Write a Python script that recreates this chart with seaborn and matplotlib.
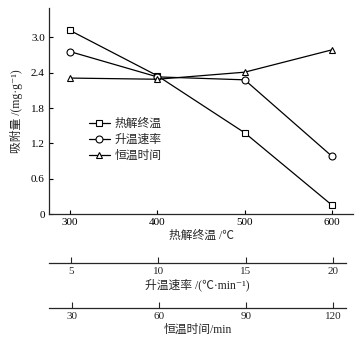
import matplotlib
matplotlib.use("Agg")
import matplotlib.pyplot as plt
import seaborn as sns
import pandas as pd

sns.set_style("ticks")
FAM = ['Liberation Serif', 'Noto Sans CJK SC', 'DejaVu Serif']
plt.rcParams['font.family'] = FAM
plt.rcParams['axes.unicode_minus'] = False

temps = [300, 400, 500, 600]
series_names = ['热解终温', '升温速率', '恒温时间']
final_temp = [3.12, 2.35, 1.38, 0.15]
heat_rate = [2.76, 2.33, 2.28, 0.98]
hold_time = [2.31, 2.29, 2.41, 2.79]
rate_ticks = [5, 10, 15, 20]
time_ticks = [30, 60, 90, 120]
y_ticks = [0, 0.6, 1.2, 1.8, 2.4, 3.0]
y_tick_labels = ['0', '0.6', '1.2', '1.8', '2.4', '3.0']

fig = plt.figure(figsize=(3.63, 3.43), dpi=100)
ax = fig.add_axes([0.135, 0.376, 0.8375, 0.6006])

markers = ['s', 'o', '^']
for name, vals, mk in zip(series_names, [final_temp, heat_rate, hold_time], markers):
    df = pd.DataFrame({'x': temps, 'y': vals})
    sns.lineplot(data=df, x='x', y='y', ax=ax, color='black', linewidth=0.9,
                 marker=mk, markersize=5, markerfacecolor='white',
                 markeredgecolor='black', markeredgewidth=0.8, label=name)

ax.set_xlim(276, 624)
ax.set_ylim(0, 3.5)
ax.set_xticks(temps)
ax.set_yticks(y_ticks)
ax.set_yticklabels(y_tick_labels)
for s in ['top', 'right']:
    ax.spines[s].set_visible(False)
for s in ['left', 'bottom']:
    ax.spines[s].set_linewidth(0.9)
ax.tick_params(direction='in', length=3, width=0.8, labelsize=8, colors='black', pad=3)
ax.set_xlabel('热解终温 /℃', fontsize=8.5, labelpad=2)
ax.set_ylabel('吸附量 /(mg·g⁻¹)', fontsize=8.5, labelpad=6)
leg = ax.legend(loc='upper left', bbox_to_anchor=(0.115, 0.49), frameon=False,
                fontsize=8.5, handlelength=1.8, handletextpad=0.4, labelspacing=0.35,
                borderaxespad=0)

def sec_axis(bottom_px, lims, ticks, label):
    b = (343 - bottom_px) / 343
    a = fig.add_axes([49 / 363, b, (346 - 49) / 363, 0.0001])
    a.set_xlim(*lims)
    a.set_xticks(ticks)
    a.set_yticks([])
    for s in ['top', 'right', 'left']:
        a.spines[s].set_visible(False)
    a.spines['bottom'].set_linewidth(0.9)
    a.patch.set_visible(False)
    a.tick_params(axis='x', direction='in', length=4, width=0.8, labelsize=8, pad=3)
    a.set_xlabel(label, fontsize=8.5, labelpad=2)
    return a

sec_axis(263, (3.74, 20.74), rate_ticks, '升温速率 /(℃·min⁻¹)')
sec_axis(308, (22.07, 124.5), time_ticks, '恒温时间/min')

fig.savefig('out.png', dpi=100)
